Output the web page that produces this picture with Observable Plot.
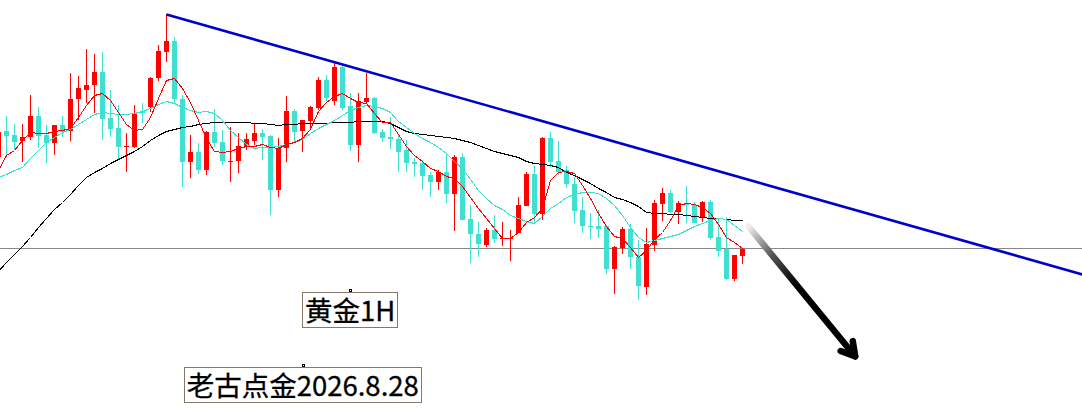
<!DOCTYPE html>
<html><head><meta charset="utf-8">
<script src="https://cdn.jsdelivr.net/npm/d3@7"></script>
<script src="https://cdn.jsdelivr.net/npm/@observablehq/plot@0.6"></script>
<style>html,body{margin:0;padding:0;background:#fff;overflow:hidden}</style>
</head><body><div id="chart"></div>
<script>
// ---- data (gold 1H) ----
const firstIndex = -1;
const open = [3243,3269,3265,3259,3263,3284,3265,3257,3275,3269,3301,3310,3315,3328,3282,3272,3253,3253,3289,3293,3322,3348,3359,3301,3238,3248,3230,3268,3258,3238,3239,3254,3259,3267,3264,3210,3252,3289,3269,3279,3292,3320,3299,3333,3294,3255,3298,3302,3268,3263,3261,3250,3238,3237,3225,3218,3228,3206,3243,3181,3166,3155,3170,3161,3161,3167,3194,3226,3186,3262,3239,3230,3216,3190,3174,3174,3174,3131,3152,3171,3143,3113,3155,3196,3207,3188,3197,3195,3182,3198,3163,3151,3121,3144];
const high = [3270,3284,3276,3276,3305,3293,3275,3275,3284,3327,3324,3351,3346,3348,3310,3295,3267,3295,3297,3323,3355,3386,3363,3305,3265,3257,3269,3291,3270,3273,3267,3267,3277,3271,3265,3262,3304,3291,3280,3294,3323,3325,3337,3336,3307,3307,3327,3303,3271,3283,3265,3260,3242,3240,3228,3230,3247,3245,3247,3195,3178,3172,3185,3178,3170,3203,3228,3234,3263,3268,3259,3234,3223,3203,3187,3190,3175,3154,3173,3176,3160,3172,3200,3212,3210,3199,3214,3198,3199,3200,3182,3183,3145,3151];
const low = [3240,3245,3250,3238,3260,3252,3237,3245,3263,3259,3280,3297,3287,3260,3263,3240,3228,3252,3277,3288,3319,3338,3297,3213,3222,3226,3225,3253,3235,3218,3227,3250,3255,3240,3185,3203,3238,3258,3248,3270,3290,3299,3295,3290,3249,3238,3297,3266,3258,3251,3228,3228,3223,3210,3203,3210,3197,3169,3180,3137,3143,3153,3157,3154,3139,3167,3194,3176,3180,3233,3225,3212,3177,3167,3161,3162,3126,3106,3146,3131,3100,3105,3149,3179,3187,3176,3177,3177,3178,3160,3143,3120,3119,3136];
const close = [3268,3264,3258,3263,3284,3264,3257,3275,3268,3301,3312,3315,3328,3281,3271,3253,3254,3287,3287,3322,3349,3359,3301,3238,3248,3230,3268,3257,3239,3239,3254,3261,3267,3263,3210,3252,3289,3268,3280,3293,3320,3302,3333,3292,3255,3299,3302,3267,3262,3261,3248,3237,3236,3224,3218,3228,3206,3243,3180,3166,3156,3170,3161,3162,3162,3195,3226,3186,3262,3238,3228,3216,3189,3174,3173,3171,3131,3153,3171,3143,3114,3156,3197,3207,3188,3197,3195,3177,3198,3162,3149,3121,3145,3151];
const maFast = [3230,3245,3250,3260,3268,3267,3267,3269,3270,3272,3283,3295,3305,3307,3300,3288,3276,3270,3271,3283,3302,3320,3322,3312,3298,3280,3262,3249,3248,3249,3252,3254,3254,3256,3253,3252,3256,3258,3262,3271,3289,3298,3304,3307,3302,3298,3297,3287,3278,3278,3266,3254,3245,3239,3232,3229,3224,3222,3214,3203,3192,3182,3172,3162,3162,3168,3178,3183,3192,3220,3228,3229,3227,3215,3202,3187,3174,3164,3162,3153,3143,3150,3161,3168,3180,3195,3197,3196,3193,3187,3176,3163,3158,3152];
const maMid = [3223,3226,3230,3233,3242,3250,3258,3263,3268,3271,3276,3281,3286,3288,3287,3286,3286,3287,3289,3292,3296,3299,3297,3293,3290,3288,3289,3287,3280,3270,3263,3256,3252,3253,3253,3254,3256,3258,3261,3267,3272,3276,3280,3285,3290,3293,3295,3294,3292,3288,3279,3273,3267,3262,3258,3253,3247,3239,3232,3221,3210,3202,3195,3191,3185,3182,3179,3177,3184,3192,3197,3203,3206,3208,3208,3207,3202,3195,3185,3173,3163,3158,3160,3162,3164,3166,3170,3174,3177,3180,3182,3181,3175,3169];
const maSlow = [3129,3138,3146,3154,3163,3173,3182,3191,3198,3206,3215,3223,3228,3232,3237,3241,3245,3249,3254,3260,3265,3269,3271,3273,3274,3276,3277,3278,3278,3278,3278,3278,3277,3277,3276,3275,3276,3276,3277,3277,3277,3277,3278,3278,3278,3279,3279,3279,3279,3277,3273,3269,3267,3266,3265,3264,3263,3262,3260,3258,3255,3252,3249,3247,3245,3243,3239,3237,3236,3235,3233,3228,3225,3221,3217,3212,3208,3203,3201,3198,3194,3188,3187,3187,3186,3186,3185,3184,3183,3182,3182,3181,3180,3180];
const levelPrice = [3152];
const trendIndex = [20, 134.5];
const trendPrice = [3386, 3126];
const arrowIndex = [92.75, 106.1];
const arrowPrice = [3174, 3044];
const labelText = ["黄金1H", "老古点金2026.8.28"];
const labelIndex = [42.94, 37.03];
const labelPrice = [3088, 3013];

// ---- tables ----
const UP = "#ff0000", DOWN = "#40e0d0";
const candles = open.map((o, j) => ({i: firstIndex + j, o, h: high[j], l: low[j], c: close[j], up: close[j] >= o}));
const ma = (arr) => arr.map((v, j) => ({i: firstIndex + j, v}));
const trend = [{x1: trendIndex[0], y1: trendPrice[0], x2: trendIndex[1], y2: trendPrice[1]}];
const arrow = [{x1: arrowIndex[0], y1: arrowPrice[0], x2: arrowIndex[1], y2: arrowPrice[1]}];
const labels = labelText.map((t, j) => ({t, i: labelIndex[j], p: labelPrice[j]}));
const half = 0.3125;

const plot = Plot.plot({
  width: 1082, height: 417, margin: 0,
  x: {domain: [-0.75, 134.5], axis: null},
  y: {domain: [2983, 3400], axis: null},
  style: {background: "#fff", overflow: "visible"},
  marks: [
    Plot.ruleY(levelPrice, {stroke: "#888888", strokeWidth: 1, shapeRendering: "crispEdges"}),
    Plot.ruleX(candles, {x: "i", y1: "l", y2: "h", stroke: d => d.up ? UP : DOWN, strokeWidth: 1, shapeRendering: "crispEdges"}),
    Plot.rect(candles, {x1: d => d.i - half, x2: d => d.i + half, y1: "o", y2: "c", fill: d => d.up ? UP : DOWN, shapeRendering: "crispEdges"}),
    Plot.line(ma(maSlow), {x: "i", y: "v", stroke: "#000", strokeWidth: 1, shapeRendering: "crispEdges"}),
    Plot.line(ma(maMid), {x: "i", y: "v", stroke: DOWN, strokeWidth: 1, shapeRendering: "crispEdges"}),
    Plot.line(ma(maFast), {x: "i", y: "v", stroke: UP, strokeWidth: 1, shapeRendering: "crispEdges"}),
    Plot.link(trend, {x1: "x1", y1: "y1", x2: "x2", y2: "y2", stroke: "#0000cc", strokeWidth: 2.6}),
    Plot.arrow(arrow, {x1: "x1", y1: "y1", x2: "x2", y2: "y2", stroke: "black", strokeWidth: 6.5, headLength: 3.6, headAngle: 60}),
    Plot.text(labels, {x: "i", y: "p", text: "t", fontSize: 27.5, fontFamily: "Noto Sans CJK SC", fill: "#000", stroke: "#000", strokeWidth: 0.3, textAnchor: "middle", lineAnchor: "middle"})
  ]
});
document.getElementById("chart").appendChild(plot);

// gradient for the arrow shaft
const ns = "http://www.w3.org/2000/svg";
const defs = document.createElementNS(ns, "defs");
defs.innerHTML = '<linearGradient id="arrowGrad" x1="0" y1="0" x2="1" y2="1"><stop offset="0" stop-color="#f0f0f0"/><stop offset="0.22" stop-color="#555"/><stop offset="0.45" stop-color="#000"/><stop offset="1" stop-color="#000"/></linearGradient>';
plot.insertBefore(defs, plot.firstChild);
const ag = plot.querySelector('g[aria-label="arrow"]');
if (ag) { ag.setAttribute("stroke", "url(#arrowGrad)"); ag.querySelectorAll("path").forEach(p => p.removeAttribute("stroke")); }

// boxes around the labels
function drawBoxes() {
  const tg = plot.querySelector('g[aria-label="text"]');
  if (!tg) return;
  const sr = plot.getBoundingClientRect();
  tg.querySelectorAll("text").forEach(t => {
    const b = t.getBoundingClientRect();
    const bx = b.left - sr.left, by = b.top - sr.top;
    const cy = by + b.height / 2;
    const r = document.createElementNS(ns, "rect");
    r.setAttribute("x", Math.round(bx - 3) + 0.5);
    r.setAttribute("y", Math.round(cy - 17.5) + 0.5);
    r.setAttribute("width", Math.round(b.width + 5));
    r.setAttribute("height", 35);
    r.setAttribute("fill", "#fff");
    r.setAttribute("stroke", "#857868");
    r.setAttribute("stroke-width", 1);
    plot.insertBefore(r, tg);
    const m = document.createElementNS(ns, "rect");
    m.setAttribute("x", Math.round(bx + b.width / 2 - 1) + 0.5);
    m.setAttribute("y", Math.round(cy - 17.5) - 2.5);
    m.setAttribute("width", 2);
    m.setAttribute("height", 2);
    m.setAttribute("fill", "#fff");
    m.setAttribute("stroke", "#000");
    m.setAttribute("stroke-width", 1);
    plot.insertBefore(m, tg);
  });
}
if (document.fonts && document.fonts.ready) document.fonts.ready.then(drawBoxes); else drawBoxes();
</script>
</body></html>
